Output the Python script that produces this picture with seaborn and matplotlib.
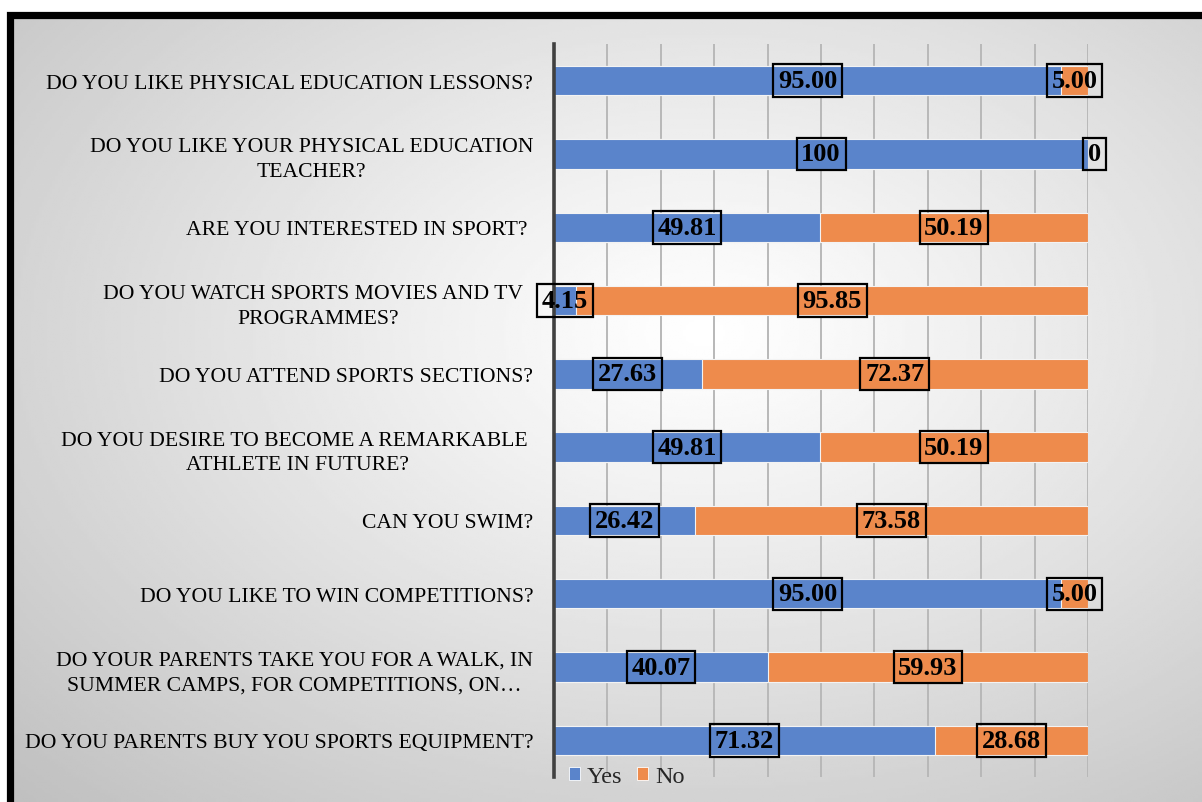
import numpy as np
import pandas as pd
import matplotlib
matplotlib.use("Agg")
import matplotlib.pyplot as plt
from matplotlib.patches import Rectangle, Patch
import seaborn as sns

questions = [
    "DO YOU LIKE PHYSICAL EDUCATION LESSONS?",
    "DO YOU LIKE YOUR PHYSICAL EDUCATION\nTEACHER?",
    "ARE YOU INTERESTED IN SPORT? ",
    "DO YOU WATCH SPORTS MOVIES AND TV  \nPROGRAMMES?",
    "DO YOU ATTEND SPORTS SECTIONS?",
    "DO YOU DESIRE TO BECOME A REMARKABLE \nATHLETE IN FUTURE?",
    "CAN YOU SWIM?",
    "DO YOU LIKE TO WIN COMPETITIONS?",
    "DO YOUR PARENTS TAKE YOU FOR A WALK, IN\nSUMMER CAMPS, FOR COMPETITIONS, ON\u2026",
    "DO YOU PARENTS BUY YOU SPORTS EQUIPMENT?",
]
yes_vals = [95.00, 100, 49.81, 4.15, 27.63, 49.81, 26.42, 95.00, 40.07, 71.32]
no_vals = [5.00, 0, 50.19, 95.85, 72.37, 50.19, 73.58, 5.00, 59.93, 28.68]
yes_labels = ["95.00", "100", "49.81", "4.15", "27.63", "49.81", "26.42", "95.00", "40.07", "71.32"]
no_labels = ["5.00", "0", "50.19", "95.85", "72.37", "50.19", "73.58", "5.00", "59.93", "28.68"]

BLUE = "#5A84CB"
ORANGE = "#EE8B4C"

df = pd.DataFrame({"q": questions, "yes": yes_vals, "no": no_vals})
df["total"] = df["yes"] + df["no"]

sns.set_theme(style="white")
plt.rcParams["font.family"] = ["Liberation Serif", "DejaVu Serif"]

W, H = 1202, 803
fig = plt.figure(figsize=(W / 100, H / 100), dpi=100, facecolor="white")

# background radial gradient
bg = fig.add_axes([14 / W, 0, 1 - 14 / W, (H - 19) / H], zorder=-10)
yy, xx = np.mgrid[0:300, 0:450]
cx, cy = 0.58 * 450, 0.40 * 300
d = np.sqrt(((xx - cx) / 450) ** 2 + ((yy - cy) / 300) ** 2)
d = d / d.max()
val = 1.0 - 0.25 * np.clip(d, 0, 1) ** 1.1
bg.imshow(val, cmap="gray", vmin=0, vmax=1, aspect="auto", extent=[0, 1, 0, 1], origin="upper")
bg.set_axis_off()

# border
fig.patches.append(Rectangle((10.5 / W, -0.1), 1.2, (H - 15.5) / H + 0.1,
                             transform=fig.transFigure, fill=False,
                             edgecolor="black", linewidth=5.2, zorder=5))

ax = fig.add_axes([554 / W, 25 / H, (1088 - 554) / W, (778 - 45) / H])
ax.set_facecolor("none")

sns.barplot(data=df, y="q", x="total", orient="h", color=ORANGE, width=0.4,
            saturation=1, ax=ax, edgecolor="#F3F3F3", linewidth=0.8, zorder=2)
sns.barplot(data=df, y="q", x="yes", orient="h", color=BLUE, width=0.4,
            saturation=1, ax=ax, edgecolor="#F3F3F3", linewidth=0.8, zorder=3)

ax.set_xlim(0, 100)
ax.set_ylim(9.5, -0.5)
ax.set_xticks(np.arange(10, 101, 10))
ax.set_xticklabels([])
ax.grid(axis="x", color="#B8B8B8", linewidth=1.4, zorder=0)
ax.grid(axis="y", visible=False)
ax.set_axisbelow(True)
for s in ["top", "right", "bottom"]:
    ax.spines[s].set_visible(False)
ax.spines["left"].set_color("#404040")
ax.spines["left"].set_linewidth(2.6)
ax.spines["left"].set_zorder(6)
ax.set_xlabel("")
ax.set_ylabel("")
ax.tick_params(axis="y", length=0, pad=15, labelsize=15.6)
ax.tick_params(axis="x", length=0)
for t in ax.get_yticklabels():
    t.set_multialignment("center")
    t.set_linespacing(1.4)
    t.set_color("black")

box = dict(boxstyle="square,pad=0.18", facecolor="none", edgecolor="black", linewidth=1.6)
for i, (y, n, yl, nl) in enumerate(zip(yes_vals, no_vals, yes_labels, no_labels)):
    ax.text(y / 2, i, yl, ha="center", va="center", fontsize=19, fontweight="bold",
            color="black", bbox=box, zorder=8)
    ax.text(y + n / 2 + (1.2 if n == 0 else 0), i, nl, ha="center", va="center",
            fontsize=19, fontweight="bold", color="black", bbox=box, zorder=8)

handles = [Patch(facecolor=BLUE, edgecolor="white", linewidth=0.6),
           Patch(facecolor=ORANGE, edgecolor="white", linewidth=0.6)]
fig.legend(handles, ["Yes", "No"], loc="center", bbox_to_anchor=(627 / W, (H - 778) / H),
           ncol=2, frameon=False, fontsize=17.5, handlelength=0.45, handleheight=0.45,
           handletextpad=0.3, columnspacing=0.6, borderpad=0.2)

fig.savefig("out.png", dpi=100, facecolor="white")
